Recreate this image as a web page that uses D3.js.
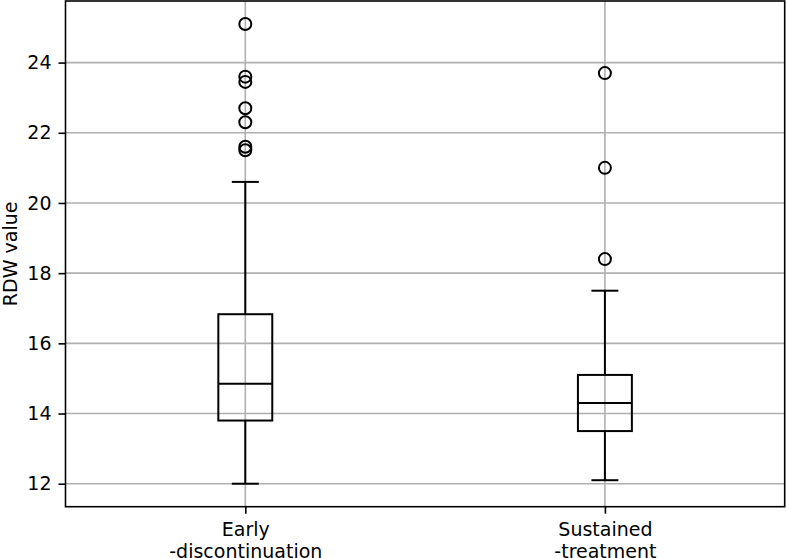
<!DOCTYPE html>
<html>
<head>
<meta charset="utf-8">
<script src="https://cdn.jsdelivr.net/npm/d3@7"></script>
<style>
html,body{margin:0;padding:0;background:#fff;}
svg{display:block;}
text{font-family:"DejaVu Sans",sans-serif;fill:#000;}
</style>
</head>
<body>
<svg id="chart" width="786" height="558"></svg>
<script>
const categories = [["Early", "-discontinuation"], ["Sustained", "-treatment"]];
const whiskerLow = [12.0, 12.1];
const q1 = [13.8, 13.5];
const medians = [14.85, 14.3];
const q3 = [16.83, 15.1];
const whiskerHigh = [20.6, 17.5];
const outliersEarly = [25.1, 23.6, 23.45, 22.7, 22.3, 21.6, 21.5];
const outliersSustained = [23.7, 21.0, 18.4];
const yTicks = [12, 14, 16, 18, 20, 22, 24];
const yLabel = "RDW value";

const outliers = [outliersEarly, outliersSustained];
const svg = d3.select("#chart");
const L = 65.5, R = 784.7, T = 1, B = 506.7;
const fs = 19;

const x = d3.scaleLinear().domain([0.5, 2.5]).range([L, R]);
const y = d3.scaleLinear().domain([11.345, 25.755]).range([B, T]);

// grid
const grid = svg.append("g");
grid.selectAll("line.h").data(yTicks).join("line")
  .attr("x1", L).attr("x2", R)
  .attr("y1", d => y(d)).attr("y2", d => y(d))
  .attr("stroke", "#b0b0b0").attr("stroke-width", 1.6);
grid.selectAll("line.v").data(categories).join("line")
  .attr("x1", (d, i) => x(i + 1)).attr("x2", (d, i) => x(i + 1))
  .attr("y1", T).attr("y2", B)
  .attr("stroke", "#b0b0b0").attr("stroke-width", 1.6);

// axes
const yAxis = d3.axisLeft(y).tickValues(yTicks).tickSize(7).tickPadding(7).tickFormat(d3.format("d"));
const gy = svg.append("g").attr("transform", `translate(${L},0)`).call(yAxis);
gy.select(".domain").remove();
gy.selectAll(".tick line").attr("stroke", "#000").attr("stroke-width", 1.6);
gy.selectAll(".tick text").attr("font-size", fs).attr("font-family", "DejaVu Sans").attr("fill", "#000");

const xAxis = d3.axisBottom(x).tickValues([1, 2]).tickSize(7).tickFormat("");
const gx = svg.append("g").attr("transform", `translate(0,${B})`).call(xAxis);
gx.select(".domain").remove();
gx.selectAll(".tick line").attr("stroke", "#000").attr("stroke-width", 1.6);
gx.selectAll(".tick").each(function(d, i) {
  const t = d3.select(this).append("text")
    .attr("text-anchor", "middle").attr("font-size", fs)
    .attr("font-family", "DejaVu Sans").attr("fill", "#000");
  categories[i].forEach((line, k) => {
    t.append("tspan").attr("x", 0).attr("y", 29.5 + k * 22.2).text(line);
  });
});

// boxes
const bw = x(1.075) - x(0.925);
const cw = bw / 2;
const g = svg.append("g").attr("stroke", "#000").attr("stroke-width", 2).attr("fill", "none");
categories.forEach((c, i) => {
  const cx = x(i + 1);
  g.append("line").attr("x1", cx).attr("x2", cx).attr("y1", y(whiskerLow[i])).attr("y2", y(q1[i]));
  g.append("line").attr("x1", cx).attr("x2", cx).attr("y1", y(q3[i])).attr("y2", y(whiskerHigh[i]));
  g.append("line").attr("x1", cx - cw / 2).attr("x2", cx + cw / 2).attr("y1", y(whiskerLow[i])).attr("y2", y(whiskerLow[i]));
  g.append("line").attr("x1", cx - cw / 2).attr("x2", cx + cw / 2).attr("y1", y(whiskerHigh[i])).attr("y2", y(whiskerHigh[i]));
  g.append("rect").attr("x", cx - bw / 2).attr("width", bw)
    .attr("y", y(q3[i])).attr("height", y(q1[i]) - y(q3[i]));
  g.append("line").attr("x1", cx - bw / 2).attr("x2", cx + bw / 2).attr("y1", y(medians[i])).attr("y2", y(medians[i]));
  g.selectAll(null).data(outliers[i]).join("circle")
    .attr("cx", cx).attr("cy", d => y(d)).attr("r", 6);
});

// frame
svg.append("rect").attr("x", L).attr("y", T).attr("width", R - L).attr("height", B - T)
  .attr("fill", "none").attr("stroke", "#000").attr("stroke-width", 1.6);

// y label
svg.append("text").attr("transform", `translate(16.5,${(T + B) / 2}) rotate(-90)`)
  .attr("text-anchor", "middle").attr("font-size", fs).text(yLabel);
</script>
</body>
</html>
